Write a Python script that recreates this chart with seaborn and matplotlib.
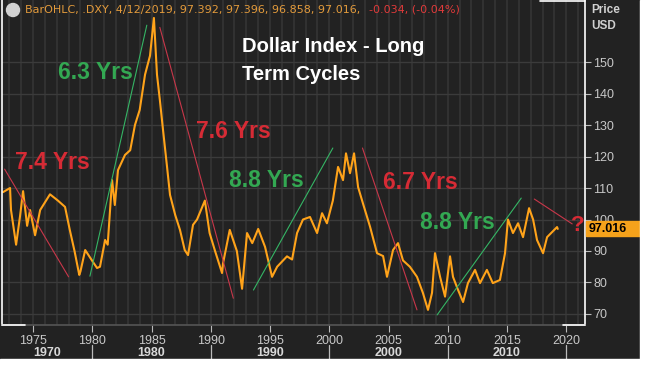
import matplotlib
matplotlib.use("Agg")
import matplotlib.pyplot as plt
import matplotlib.transforms as mtransforms
from matplotlib.patches import Rectangle, Circle
import seaborn as sns
import pandas as pd

# Dollar index (DXY)
years = [1972.47, 1973.06, 1973.14, 1973.57, 1973.9, 1974.16, 1974.5, 1974.75,
         1975.17, 1975.6, 1976.43, 1977.1, 1977.7, 1978.1, 1978.5, 1978.9,
         1979.0, 1979.4, 1980.06, 1980.4, 1980.65, 1981.08, 1981.3, 1981.67,
         1981.9, 1982.17, 1982.76, 1983.2, 1983.6, 1984.0, 1984.45, 1984.87,
         1985.2, 1985.46, 1985.7, 1985.97, 1986.3, 1986.56, 1987.0, 1987.4,
         1987.8, 1988.08, 1988.5, 1988.84, 1989.5, 1989.9, 1990.36, 1990.95,
         1991.03, 1991.6, 1992.2, 1992.64, 1993.06, 1993.5, 1994.0, 1994.58,
         1995.17, 1995.6, 1996.43, 1996.86, 1997.28, 1997.78, 1998.37, 1998.97,
         1999.39, 1999.8, 2000.3, 2000.74, 2001.16, 2001.41, 2001.75, 2002.09,
         2002.43, 2002.85, 2003.44, 2004.03, 2004.54, 2004.87, 2005.38, 2005.8,
         2006.22, 2006.8, 2007.4, 2007.9, 2008.33, 2008.67, 2008.92, 2009.35,
         2009.77, 2010.19, 2010.44, 2010.86, 2011.29, 2011.7, 2012.3, 2012.72,
         2013.3, 2013.8, 2014.4, 2014.83, 2015.08, 2015.5, 2015.93, 2016.35,
         2016.86, 2017.2, 2017.53, 2018.04, 2018.38, 2018.8, 2019.22, 2019.28]
dxy = [108.7, 110, 103, 92, 101, 109, 98, 103,
       95, 103, 108, 106, 104, 96.7, 90, 82.4,
       83.5, 90.3, 86.5, 84.6, 85, 93.5, 92, 112.5,
       104.6, 115.7, 120.5, 122, 130, 134.8, 146, 152,
       164, 146, 138, 128.4, 117, 107.8, 101.4, 96.7,
       90.3, 88.7, 98.3, 100, 106, 95.7, 90, 83,
       86, 96.7, 90, 78, 95.7, 92.5, 97, 91.3,
       81.8, 85, 88.3, 87.3, 95.7, 100, 100.8, 95.7,
       102, 98.8, 106, 116.7, 112.5, 121, 114.7, 121,
       110.3, 105, 97.7, 89.3, 88.4, 81.8, 90.3, 92.5,
       87, 85, 81.8, 76.7, 71.3, 76.7, 89.3, 81.8,
       75.5, 88.3, 81.8, 77.7, 73.8, 79.8, 84, 79.8,
       84, 79.8, 80.8, 89.3, 100, 95.7, 98.8, 94.4,
       103.6, 100, 93.5, 89.3, 94.4, 96, 97.6, 97.016]

# cycle trend lines: (x0, y0, x1, y1, kind)
cycle_lines = [(1972.6, 116, 1978.0, 81.8, "down"),
               (1979.8, 82, 1984.6, 161.7, "up"),
               (1985.7, 161, 1991.9, 75, "down"),
               (1993.6, 77.6, 2000.3, 122.7, "up"),
               (2002.8, 122.7, 2007.4, 71.3, "down"),
               (2009.1, 69.7, 2016.2, 106.8, "up"),
               (2017.3, 106.5, 2020.5, 98.6, "down")]

cycle_labels = ["7.4 Yrs", "6.3 Yrs", "7.6 Yrs", "8.8 Yrs", "6.7 Yrs", "8.8 Yrs"]
label_x = [1973.5, 1977.1, 1988.75, 1991.5, 2004.5, 2007.66]
label_y = [118, 146.8, 127.8, 112.5, 111.6, 98.9]
label_kind = ["down", "up", "down", "up", "down", "up"]

year_ticks = list(range(1975, 2021, 5))
price_ticks = list(range(70, 151, 10))
decades = ["1970", "1980", "1990", "2000", "2010"]
decade_mid = [1976.2, 1985, 1995, 2005, 2015]
last_price = 97.016

BG = "#222222"
ORANGE = "#ffa31a"
RED = "#d62b35"
GREEN = "#33a852"
TXT = "#c8c8c8"

sns.set_theme(style="dark", rc={"axes.facecolor": BG, "figure.facecolor": BG})
plt.rcParams["font.family"] = ["Liberation Sans", "DejaVu Sans"]

fig = plt.figure(figsize=(6.47, 3.65), dpi=100)
W, H = 647, 365


def fx(px):
    return px / W


def fy(py):
    return 1 - py / H


ax = fig.add_axes([fx(2), fy(325), fx(585) - fx(2), fy(0) - fy(325)])

df = pd.DataFrame({"year": years, "dxy": dxy})
sns.lineplot(data=df, x="year", y="dxy", color=ORANGE, linewidth=1.5, ax=ax)

for x0, y0, x1, y1, kind in cycle_lines:
    ax.plot([x0, x1], [y0, y1], color=("#c8374a" if kind == "down" else "#35b565"),
            lw=0.8)

for t, x, y, k in zip(cycle_labels, label_x, label_y, label_kind):
    ax.text(x, y, t, color=(RED if k == "down" else GREEN), fontsize=16.5,
            fontweight="bold", va="center", ha="left")
ax.text(2021.0, 98.2, "?", color=RED, fontsize=16, fontweight="bold",
        va="center", ha="center", clip_on=False, zorder=6)

ax.text(1992.6, 155, "Dollar Index - Long", color="white", fontsize=14.5,
        fontweight="bold", va="center", ha="left")
ax.text(1992.6, 145.9, "Term Cycles", color="white", fontsize=14.5,
        fontweight="bold", va="center", ha="left")

ax.set_xlim(1972.38, 2021.58)
ax.set_ylim(66.5, 169.7)
ax.set_xlabel("")
ax.set_ylabel("")

ax.set_xticks(year_ticks)
ax.set_xticks(range(1973, 2022), minor=True)
ax.set_yticks(price_ticks)
ax.yaxis.tick_right()
ax.grid(True, which="both", axis="x", color="#333333", lw=1.3)
ax.grid(True, which="major", axis="y", color="#3b3b3b", lw=1.0)
ax.tick_params(axis="x", which="major", bottom=True, length=5, width=0.8,
               color="#bbbbbb", labelcolor=TXT, labelsize=9, pad=2)
ax.tick_params(axis="x", which="minor", length=0)
ax.tick_params(axis="y", right=True, left=False, length=4, width=0.8,
               color="#bbbbbb", labelcolor=TXT, labelsize=9, pad=2)

for s in ["left", "right"]:
    ax.spines[s].set_color("white")
    ax.spines[s].set_linewidth(1.2)
ax.spines["top"].set_visible(False)
ax.spines["bottom"].set_color("#555555")
ax.spines["bottom"].set_linewidth(1.2)

# white corner brackets of the frame
fig.lines.append(plt.Line2D([fx(2), fx(25)], [fy(325), fy(325)], color="white",
                            lw=1.2, transform=fig.transFigure))
fig.lines.append(plt.Line2D([fx(563), fx(585)], [fy(325), fy(325)], color="white",
                            lw=1.2, transform=fig.transFigure))
fig.lines.append(plt.Line2D([fx(540), fx(585)], [fy(0.6), fy(0.6)], color="white",
                            lw=1.2, transform=fig.transFigure))

# decade row under the years
trans = mtransforms.blended_transform_factory(ax.transData, fig.transFigure)
for d, m in zip(decades, decade_mid):
    ax.text(m, fy(353), d, transform=trans, color="#d8d8d8", fontsize=9,
            fontweight="bold", ha="center", va="center")
for yr in range(1980, 2021, 10):
    ax.plot([yr, yr], [fy(345), fy(359)], transform=trans, color="#bbbbbb",
            lw=0.9, clip_on=False)

# header line
fig.patches.append(Circle((13, H - 10), 6.5, color="#d0d0d0", transform=None))
fig.text(fx(25), fy(10), "BarOHLC, .DXY, 4/12/2019, 97.392, 97.396, 96.858, 97.016,",
         color="#e39b3c", fontsize=8.0, family="DejaVu Sans", va="center", ha="left")
fig.text(fx(369), fy(10), "-0.034, (-0.04%)", color="#e03a3a", fontsize=8.0,
         family="DejaVu Sans", va="center", ha="left")

fig.text(fx(591), fy(10), "Price", color="#d0d0d0", fontsize=8.5,
         fontweight="bold", va="center", ha="left")
fig.text(fx(591), fy(26), "USD", color="#d0d0d0", fontsize=8.5,
         fontweight="bold", va="center", ha="left")

# last price tag
pt_y = fig.transFigure.inverted().transform(ax.transData.transform((2021, last_price)))[1]
fig.patches.append(Rectangle((fx(586), pt_y - 7.5 / H), fx(640) - fx(586), 15 / H,
                             color="#f5a21b", transform=fig.transFigure, zorder=5))
fig.text(fx(589), pt_y, f"{last_price:.3f}", color="black", fontsize=9,
         fontweight="bold", va="center", ha="left", zorder=6)

# white margin on right and bottom
fig.patches.append(Rectangle((fx(640), 0), 1 - fx(640), 1, color="white",
                             transform=fig.transFigure, zorder=10))
fig.patches.append(Rectangle((0, 0), 1, fy(359), color="white",
                             transform=fig.transFigure, zorder=10))

fig.savefig("out.png", dpi=100, facecolor=BG)
